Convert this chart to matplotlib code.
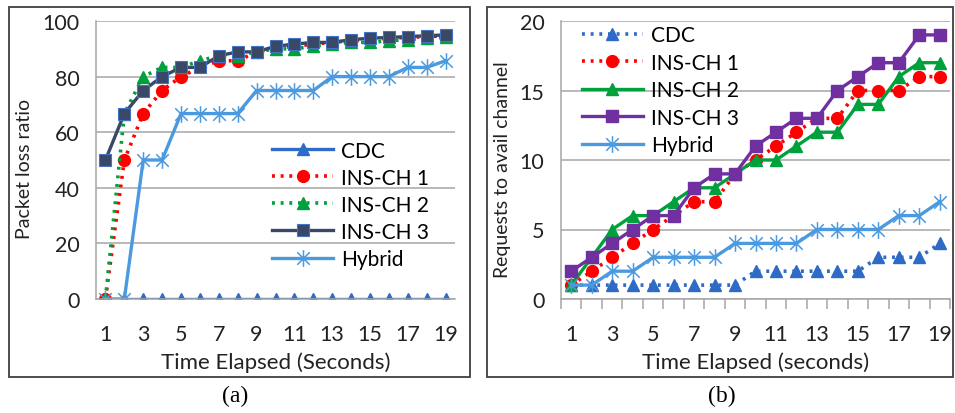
import matplotlib
matplotlib.use("Agg")
import matplotlib.pyplot as plt
from matplotlib.path import Path
from matplotlib.patches import Rectangle

plt.rcParams['font.family'] = ['Lato', 'DejaVu Sans']

x = list(range(1, 20))
xticks = list(range(1, 20, 2))

# (a) packet loss ratio
a_cdc = [0] * 19
a_ins1 = [0, 50, 66.7, 75, 80, 83.3, 85.7, 85.7, 88.9, 90, 90.9, 91.7, 92.3, 92.9, 93.3, 93.8, 94.1, 94.4, 94.7]
a_ins2 = [0, 66.7, 80, 83.3, 83.3, 85.7, 87.5, 87.5, 88.9, 90, 90, 90.9, 91.7, 92.3, 92.3, 92.9, 93.3, 93.8, 94.1]
a_ins3 = [50, 66.7, 75, 80, 83.3, 83.3, 87.5, 88.9, 88.9, 90.9, 91.7, 92.3, 92.3, 93.3, 93.8, 94.1, 94.4, 94.7, 95]
a_hyb = [0, 0, 50, 50, 66.7, 66.7, 66.7, 66.7, 75, 75, 75, 75, 80, 80, 80, 80, 83.3, 83.3, 85.7]

# (b) requests to avail channel
b_cdc = [1, 1, 1, 1, 1, 1, 1, 1, 1, 2, 2, 2, 2, 2, 2, 3, 3, 3, 4]
b_ins1 = [1, 2, 3, 4, 5, 6, 7, 7, 9, 10, 11, 12, 13, 13, 15, 15, 15, 16, 16]
b_ins2 = [1, 3, 5, 6, 6, 7, 8, 8, 9, 10, 10, 11, 12, 12, 14, 14, 16, 17, 17]
b_ins3 = [2, 3, 4, 5, 6, 6, 8, 9, 9, 11, 12, 13, 13, 15, 16, 17, 17, 19, 19]
b_hyb = [1, 1, 2, 2, 3, 3, 3, 3, 4, 4, 4, 4, 5, 5, 5, 5, 6, 6, 7]

labels = ["CDC", "INS-CH 1", "INS-CH 2", "INS-CH 3", "Hybrid"]

blue = "#2E6BC6"
red = "#FF0000"
green = "#00A03C"
navy = "#3A4868"
purple = "#7030A0"
light = "#4B9AE0"

star = Path([(0, -1), (0, 1), (-0.75, -0.75), (0.75, 0.75), (-0.75, 0.75), (0.75, -0.75)],
            [Path.MOVETO, Path.LINETO, Path.MOVETO, Path.LINETO, Path.MOVETO, Path.LINETO])
dots = (0, (0.8, 1.6))
fs = 15.5
txt = "#222222"

fig = plt.figure(figsize=(9.55, 4.14), dpi=100)
ax1 = fig.add_axes([96 / 955, 114 / 414, 359 / 955, 278 / 414])
ax2 = fig.add_axes([561 / 955, 114 / 414, 389 / 955, 278 / 414])


def style(ax, ymax, step, ticks_out):
    ax.set_xlim(0.5, 19.5)
    ax.set_ylim(0, ymax)
    ax.set_yticks(range(0, ymax + 1, step))
    ax.set_xticks(xticks)
    ax.grid(axis='y', color="#A6A6A6", linewidth=1.1)
    ax.set_axisbelow(True)
    for s in ["top", "right"]:
        ax.spines[s].set_visible(False)
    for s in ["left", "bottom"]:
        ax.spines[s].set_color("#A6A6A6")
        ax.spines[s].set_linewidth(1.1)
    ax.tick_params(axis='y', length=0, pad=12, labelsize=fs, labelcolor=txt)
    ax.tick_params(axis='x', length=0, pad=18, labelsize=fs, labelcolor=txt)
    if ticks_out:
        ax.set_xticks([i + 0.5 for i in range(0, 20)], minor=True)
        ax.tick_params(axis='x', which='minor', length=7, width=1.1, color="#A6A6A6", direction='out')


style(ax1, 100, 20, False)
ax1.plot(x, a_cdc, color=blue, lw=2.4, marker='^', ms=8.5, label=labels[0])
ax1.plot(x, a_ins1, color=red, lw=2.6, ls=dots, marker='o', ms=8.5, label=labels[1])
ax1.plot(x, a_ins2, color=green, lw=2.6, ls=dots, marker='^', ms=8.5, label=labels[2])
ax1.plot(x, a_ins3, color=navy, lw=2.4, marker='s', ms=8, mec="#4472C4", mew=0.8, label=labels[3])
ax1.plot(x, a_hyb, color=light, lw=2.4, marker=star, ms=12, mew=1.1, label=labels[4])
ax1.set_ylabel("Packet loss ratio", fontsize=14, color=txt)
ax1.yaxis.set_label_coords(-0.175, 0.47)
ax1.set_xlabel("Time Elapsed (Seconds)", fontsize=16, color=txt, labelpad=5)
ax1.legend(loc="upper left", bbox_to_anchor=(0.468, 0.60), frameon=False, fontsize=15,
           handlelength=2.9, labelspacing=0.34, handletextpad=0.4, borderaxespad=0)

style(ax2, 20, 5, True)
ax2.plot(x, b_cdc, color=blue, lw=2.6, ls=dots, marker='^', ms=8.5, label=labels[0])
ax2.plot(x, b_ins1, color=red, lw=2.6, ls=dots, marker='o', ms=8.5, label=labels[1])
ax2.plot(x, b_ins2, color=green, lw=2.4, marker='^', ms=8.5, label=labels[2])
ax2.plot(x, b_ins3, color=purple, lw=2.4, marker='s', ms=8, label=labels[3])
ax2.plot(x, b_hyb, color=light, lw=2.4, marker=star, ms=12, mew=1.1, label=labels[4])
ax2.set_ylabel("Requests to avail channel", fontsize=14, color=txt)
ax2.yaxis.set_label_coords(-0.128, 0.47)
ax2.set_xlabel("Time Elapsed (seconds)", fontsize=16, color=txt, labelpad=5)
ax2.legend(loc="upper left", bbox_to_anchor=(0.033, 1.015), frameon=False, fontsize=15,
           handlelength=2.9, labelspacing=0.36, handletextpad=0.4, borderaxespad=0)

# panel frames
fig.add_artist(Rectangle((9 / 955, 36 / 414), 461 / 955, 370 / 414, fill=False,
                         edgecolor="#404040", lw=1.3, transform=fig.transFigure))
fig.add_artist(Rectangle((487 / 955, 36 / 414), 466 / 955, 370 / 414, fill=False,
                         edgecolor="#404040", lw=1.3, transform=fig.transFigure))
fig.text(235 / 955, 18 / 414, "(a)", ha="center", va="center", fontsize=17, family="Liberation Serif")
fig.text(722 / 955, 18 / 414, "(b)", ha="center", va="center", fontsize=17, family="Liberation Serif")

fig.savefig("out.png", dpi=100)
